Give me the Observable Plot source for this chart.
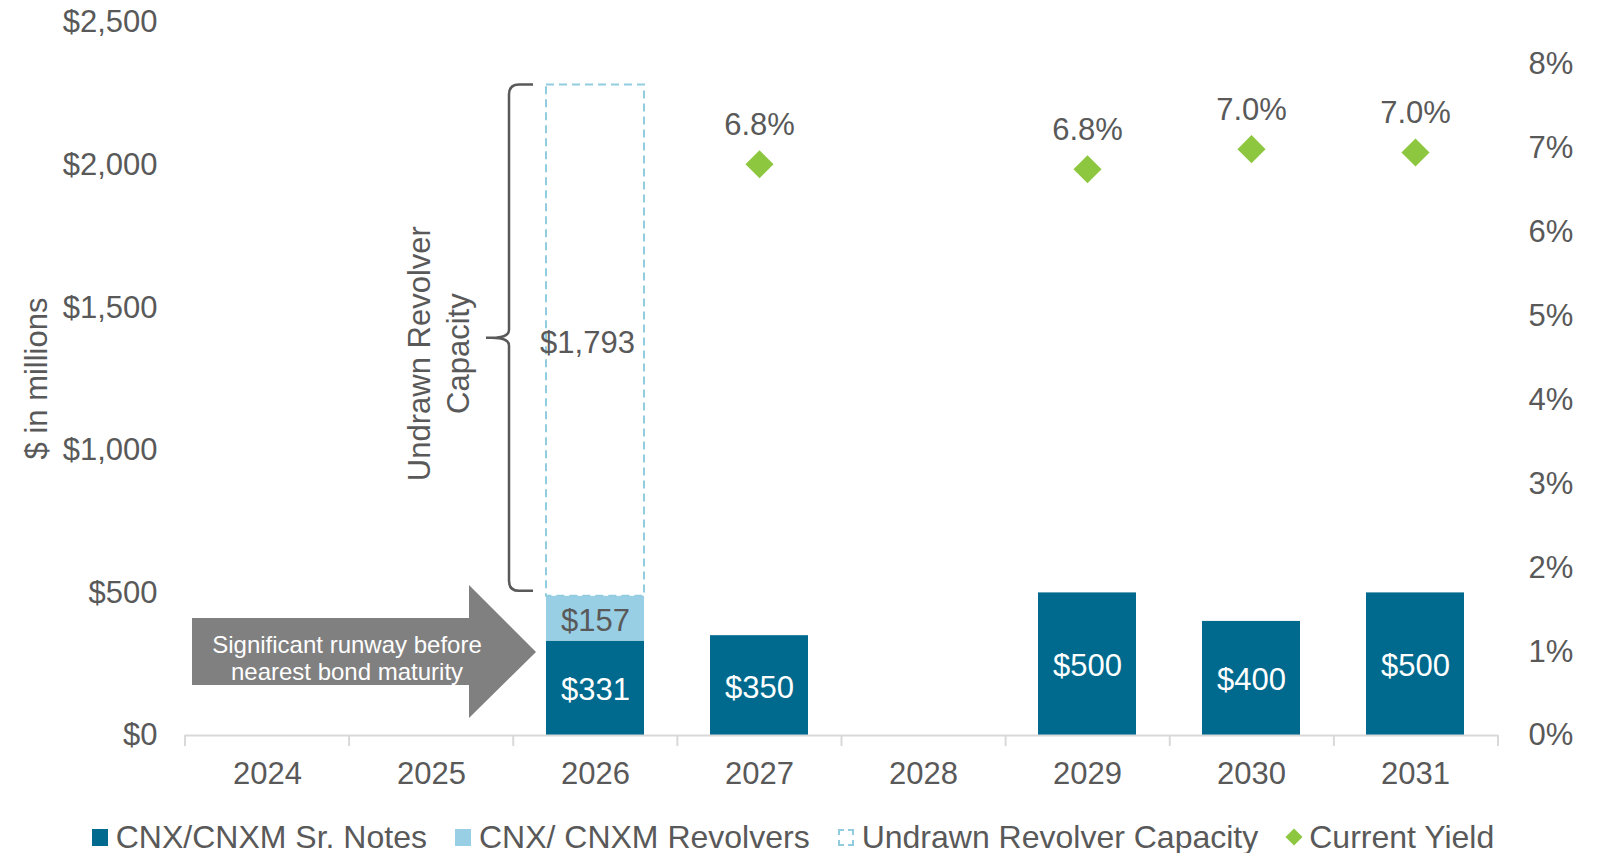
<!DOCTYPE html>
<html>
<head>
<meta charset="utf-8">
<script src="https://cdn.jsdelivr.net/npm/d3@7"></script>
<script src="https://cdn.jsdelivr.net/npm/@observablehq/plot@0.6"></script>
<style>
  html, body { margin: 0; padding: 0; background: #fff; }
  body { width: 1600px; height: 853px; overflow: hidden; font-family: "Liberation Sans", Arial, sans-serif; }
  #legend { display: flex; justify-content: center; align-items: center; gap: 28px; font-size: 32px; color: #595959; line-height: 44px; height: 44px; white-space: nowrap; padding-right: 14px; }
  #legend .item { display: flex; align-items: center; gap: 8px; }
  #legend .sw { display: inline-block; width: 16px; height: 17px; box-sizing: border-box; }
  #legend .dia { width: 12px; height: 12px; transform: rotate(45deg); margin: 0 1px 0 2px; }
</style>
</head>
<body>
<div id="chart"></div>
<div id="legend"></div>
<script>
// ---- data ----
const years = ["2024", "2025", "2026", "2027", "2028", "2029", "2030", "2031"];
const srNotes = [0, 0, 331, 350, 0, 500, 400, 500];
const revolvers = [0, 0, 157, 0, 0, 0, 0, 0];
const undrawnCapacity = [0, 0, 1793, 0, 0, 0, 0, 0];
const yieldYears = ["2027", "2029", "2030", "2031"];
const yieldValues = [6.81, 6.75, 6.99, 6.95];
const leftTicks = [0, 500, 1000, 1500, 2000, 2500];
const rightTicks = [0, 1, 2, 3, 4, 5, 6, 7, 8];
const seriesNames = ["CNX/CNXM Sr. Notes", "CNX/ CNXM Revolvers", "Undrawn Revolver Capacity", "Current Yield"];

// ---- styles ----
const C_NOTES = "#006A8E";
const C_REV = "#99CFE4";
const C_UNDRAWN = "#92CDDF";
const C_YIELD = "#8DC63F";
const C_TEXT = "#595959";

const yMax = 2500;
const pctMax = 8.5;
const k = yMax / pctMax; // $ per percentage point for the secondary axis

const rows = years.map((year, i) => ({
  year,
  notes: srNotes[i],
  rev: revolvers[i],
  undrawn: undrawnCapacity[i]
}));
const noteRows = rows.filter(d => d.notes > 0);
const revRows = rows.filter(d => d.rev > 0);
const undrawnRows = rows.filter(d => d.undrawn > 0);
const yieldRows = yieldYears.map((year, i) => ({year, pct: yieldValues[i], y: yieldValues[i] * k}));
const money = d => "$" + d3.format(",")(d);

const plot = Plot.plot({
  width: 1600,
  height: 815,
  marginTop: 22,
  marginBottom: 80,
  marginLeft: 185,
  marginRight: 102,
  style: {fontFamily: "'Liberation Sans', Arial, sans-serif", fontSize: "31px", color: C_TEXT, background: "#fff"},
  x: {type: "band", domain: years, paddingInner: 0.4, paddingOuter: 0.2},
  y: {domain: [0, yMax]},
  marks: [
    Plot.axisX({tickSize: 0, tickPadding: 26, label: null, fontSize: 31}),
    Plot.axisY({anchor: "left", ticks: leftTicks, tickFormat: money, tickSize: 0, tickPadding: 28, label: null, fontSize: 31}),
    Plot.axisY({anchor: "right", ticks: rightTicks.map(p => p * k), tickFormat: d => Math.round(d / k) + "%", tickSize: 0, tickPadding: 30, label: null, fontSize: 31}),
    Plot.barY(noteRows, {x: "year", y1: 0, y2: "notes", fill: C_NOTES}),
    Plot.barY(revRows, {x: "year", y1: "notes", y2: d => d.notes + d.rev, fill: C_REV}),
    Plot.barY(undrawnRows, {x: "year", y1: d => d.notes + d.rev, y2: d => d.notes + d.rev + d.undrawn, fill: "none", stroke: C_UNDRAWN, strokeWidth: 2, strokeDasharray: "8,5"}),
    Plot.ruleY([0], {stroke: "#D9D9D9", strokeWidth: 2}),
    Plot.text(noteRows, {x: "year", y: d => d.notes / 2, text: d => money(d.notes), fill: "#fff", fontSize: 31, dy: 2}),
    Plot.text(revRows, {x: "year", y: d => d.notes + d.rev / 2, text: d => money(d.rev), fill: C_TEXT, fontSize: 31, dy: 2}),
    Plot.text(undrawnRows, {x: "year", y: d => d.notes + d.rev + d.undrawn / 2, text: d => money(d.undrawn), fill: C_TEXT, fontSize: 31, dx: -8, dy: 2}),
    Plot.dot(yieldRows, {x: "year", y: "y", symbol: "square", r: 11.2, rotate: 45, fill: C_YIELD, stroke: "none"}),
    Plot.text(yieldRows, {x: "year", y: "y", text: d => d.pct.toFixed(1) + "%", dy: -39, fill: C_TEXT, fontSize: 31})
  ]
});

document.getElementById("chart").appendChild(plot);

// ---- annotations positioned through the plot's own scales ----
const xs = plot.scale("x");
const ys = plot.scale("y");
const X = v => xs.apply(v);
const Y = v => ys.apply(v);
const [r0, r1] = xs.range;
const step = (r1 - r0) / years.length;
const svg = d3.select(plot);
const g = svg.append("g");

// category separator ticks on the x axis
g.selectAll("line.sep").data(d3.range(years.length + 1)).join("line")
  .attr("x1", i => r0 + i * step).attr("x2", i => r0 + i * step)
  .attr("y1", Y(0)).attr("y2", Y(0) + 11)
  .attr("stroke", "#D9D9D9").attr("stroke-width", 2);

// y axis title
const frameMidY = (Y(0) + Y(yMax)) / 2;
g.append("text")
  .attr("transform", `translate(36,${frameMidY}) rotate(-90)`)
  .attr("text-anchor", "middle").attr("dy", "0.35em")
  .attr("fill", C_TEXT).attr("font-size", 31)
  .text("$ in millions");

// arrow
const barLeft = X("2026");
const tipX = barLeft - 10;
const headX = tipX - 67;
const leftX = r0 + 7;
const arrowPts = [
  [leftX, Y(410)], [headX, Y(410)], [headX, Y(526)], [tipX, Y(291)],
  [headX, Y(60)], [headX, Y(175)], [leftX, Y(175)]
];
g.append("polygon").attr("points", arrowPts.map(p => p.join(",")).join(" ")).attr("fill", "#808080");
const arrowText = g.append("text").attr("text-anchor", "middle").attr("fill", "#fff").attr("font-size", 24);
arrowText.append("tspan").attr("x", leftX + 155).attr("y", Y(291) - 7).attr("dy", "0.35em").text("Significant runway before");
arrowText.append("tspan").attr("x", leftX + 155).attr("y", Y(291) + 20).attr("dy", "0.35em").text("nearest bond maturity");

// brace
const r2026 = rows[years.indexOf("2026")];
const bTop = Y(r2026.notes + r2026.rev + r2026.undrawn);
const bBot = Y(r2026.notes + r2026.rev) - 5;
const bMid = (bTop + bBot) / 2;
const bx = barLeft - 37;
const bEnd = barLeft - 13;
const tip = bx - 23;
const bracePath = `M${bEnd},${bTop} L${bx + 10},${bTop} Q${bx},${bTop} ${bx},${bTop + 10}
  L${bx},${bMid - 8} Q${bx},${bMid} ${tip + 6},${bMid} L${tip},${bMid} L${tip + 6},${bMid} Q${bx},${bMid} ${bx},${bMid + 8}
  L${bx},${bBot - 10} Q${bx},${bBot} ${bx + 10},${bBot} L${bEnd},${bBot}`;
g.append("path").attr("d", bracePath).attr("fill", "none").attr("stroke", C_TEXT).attr("stroke-width", 2.5);

// rotated brace label
const capText = g.append("text")
  .attr("transform", `translate(${barLeft - 107},${bMid + 16}) rotate(-90)`)
  .attr("text-anchor", "middle").attr("fill", C_TEXT).attr("font-size", 31);
capText.append("tspan").attr("x", 0).attr("y", -20).attr("dy", "0.35em").text("Undrawn Revolver");
capText.append("tspan").attr("x", 0).attr("y", 19).attr("dy", "0.35em").text("Capacity");

// ---- legend ----
const legend = d3.select("#legend");
const swatches = [
  s => s.style("background", C_NOTES),
  s => s.style("background", C_REV),
  s => s.style("border", `2px dashed ${C_UNDRAWN}`),
  s => s.classed("dia", true).style("background", C_YIELD)
];
seriesNames.forEach((name, i) => {
  const item = legend.append("div").attr("class", "item");
  swatches[i](item.append("span").attr("class", "sw"));
  item.append("span").text(name);
});
</script>
</body>
</html>
